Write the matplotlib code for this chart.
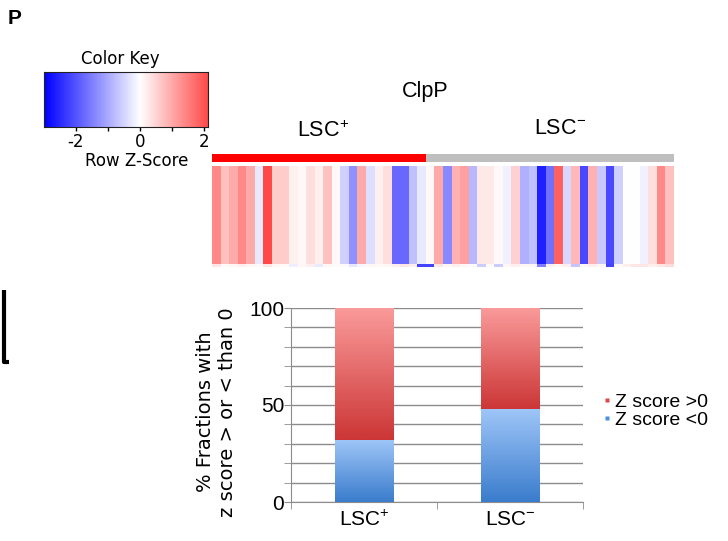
import numpy as np
import matplotlib
matplotlib.use("Agg")
import matplotlib.pyplot as plt
from matplotlib.colors import LinearSegmentedColormap, ListedColormap
from matplotlib.lines import Line2D

plt.rcParams['font.family'] = ['Liberation Sans', 'DejaVu Sans']
plt.rcParams['mathtext.default'] = 'regular'

# ---------------- data ----------------
lsc_pos_z = [1.40, 0.74, 1.00, 1.40, 1.00, -0.27, 2.15, 0.60, 0.60, 0.18,
             0.09, 0.38, 0.18, 0.74, 0.09, -0.56, -1.31, 1.00, -0.38, 0.18,
             0.38, -1.78, -1.78, -0.74, -0.27]
lsc_neg_z = [0.09, 1.02, -1.40, 0.93, 1.12, -0.84, 0.27, 0.27, 0.09, -0.18,
             0.55, -0.93, -0.74, -2.62, -1.68, 1.87, -0.47, 0.84, -2.15, 0.93,
             -0.65, -2.15, -0.56, 0.02, -0.02, -0.18, 0.38, 1.40, 0.74]
# thin second row (partially visible below main row)
row2_z = [0.30, 0.05, 0.10, 0.20, 0.10, 0.05, 0.30, 0.10, 0.05, -0.20,
          0.10, 0.20, -0.25, 0.10, 0.05, 0.05, -0.30, -0.10, 0.10, 0.05,
          0.10, 0.20, 0.30, 0.20, -2.20, -2.20, 0.30, 0.10, 0.20, 0.10,
          0.05, -0.60, 0.05, -0.60, 0.10, 0.20, 0.10, 0.10, -1.50, 0.20,
          0.10, 0.20, -0.70, 0.10, 0.20, 0.10, -2.20, 0.05, 0.20, 0.30,
          0.30, 0.20, 0.30, 0.40]
groups = ["LSC$^{+}$", "LSC$^{-}$"]
frac_neg = [32, 48]
frac_pos = [68, 52]
legend_labels = ["Z score >0", "Z score <0"]
key_ticks = [-2, -1, 0, 1, 2]
key_ticklabels = ["-2", "", "0", "", "2"]
bar_yticks = [0, 50, 100]

W, H = 728, 541
fig = plt.figure(figsize=(W / 100, H / 100), dpi=100)


def px_axes(x0, y0, x1, y1):
    return fig.add_axes([x0 / W, 1 - y1 / H, (x1 - x0) / W, (y1 - y0) / H])


cmap = LinearSegmentedColormap.from_list("bwr_key", [(0, 0, 1), (1, 1, 1), (1, 0, 0)])
vmin, vmax = -3, 3
KEYFONT = ['DejaVu Sans']

# ---------------- panel letter ----------------
fig.text(8 / W, 1 - 18 / H, "P", fontsize=15, fontweight='bold', va='center', ha='left')

# ---------------- colour key ----------------
axk = px_axes(44, 72, 208, 127)
grad = np.linspace(-3, 2.125, 256)[None, :]
axk.imshow(grad, aspect='auto', cmap=cmap, vmin=vmin, vmax=vmax,
           extent=[-3, 2.125, 0, 1], interpolation='bilinear')
axk.set_xlim(-3, 2.125)
axk.set_ylim(0, 1)
axk.set_yticks([])
axk.set_xticks(key_ticks)
axk.set_xticklabels(key_ticklabels, fontsize=12, family=KEYFONT)
axk.tick_params(axis='x', length=3, width=1, pad=1, direction='out')
for s in axk.spines.values():
    s.set_color('#222222')
    s.set_linewidth(0.8)
fig.text(120 / W, 1 - 59 / H, "Color Key", fontsize=12, family=KEYFONT,
         ha='center', va='center')
fig.text(137 / W, 1 - 161 / H, "Row Z-Score", fontsize=12, family=KEYFONT,
         ha='center', va='center')

# ---------------- heatmap ----------------
all_z = np.array(lsc_pos_z + lsc_neg_z)
n = len(all_z)
axh = px_axes(212, 166, 674, 267)
Z = np.vstack([np.array(row2_z), all_z])
axh.pcolormesh(np.arange(n + 1), [0, 0.03, 1.0], Z, cmap=cmap, vmin=vmin, vmax=vmax,
               shading='flat', antialiased=False)
axh.set_xlim(0, n)
axh.set_ylim(0, 1)
axh.axis('off')

# side colour bar
axs = px_axes(212, 154, 674, 162)
grp = np.array([0] * len(lsc_pos_z) + [1] * len(lsc_neg_z))[None, :]
axs.pcolormesh(np.arange(n + 1), [0, 1], grp, cmap=ListedColormap(['#ff0000', '#bfbfbf']),
               vmin=0, vmax=1, shading='flat')
axs.set_xlim(0, n)
axs.axis('off')

fig.text(425 / W, 1 - 91 / H, "ClpP", fontsize=15.5, ha='center', va='center')
fig.text(323 / W, 1 - 131 / H, "LSC$^{+}$", fontsize=15.5, ha='center', va='center')
fig.text(560 / W, 1 - 129 / H, "LSC$^{-}$", fontsize=15.5, ha='center', va='center')

# ---------------- stacked bar chart ----------------
axb = px_axes(291, 308, 583, 502)
x = np.arange(len(groups))
bw = 0.4
b_neg = axb.bar(x, frac_neg, width=bw, color='#6fa3e6', zorder=3, linewidth=0)
b_pos = axb.bar(x, frac_pos, width=bw, bottom=frac_neg, color='#e06464', zorder=3, linewidth=0)

red_grad = LinearSegmentedColormap.from_list("rg", ['#cc3636', '#fa9a9a'])
blue_grad = LinearSegmentedColormap.from_list("bg", ['#3a7ccc', '#9fc6f8'])
for bars, gc in ((b_neg, blue_grad), (b_pos, red_grad)):
    for p in bars:
        x0, y0 = p.get_x(), p.get_y()
        w, h = p.get_width(), p.get_height()
        im = axb.imshow(np.linspace(0, 1, 128)[:, None], cmap=gc, aspect='auto',
                        origin='lower', extent=[x0, x0 + w, y0, y0 + h], zorder=4,
                        interpolation='bilinear')
        im.set_clip_path(p)

axb.set_xlim(-0.5, 1.5)
axb.set_ylim(0, 100)
axb.set_yticks(bar_yticks)
axb.set_yticks(np.arange(0, 101, 10), minor=True)
axb.yaxis.grid(True, which='both', color='#8c8c8c', linewidth=1.0, zorder=0)
axb.set_axisbelow(True)
axb.tick_params(axis='y', which='both', length=5, color='#8c8c8c', labelsize=15, pad=0)
axb.set_xticks([-0.5, 0.5, 1.5], minor=True)
axb.set_xticks(x)
axb.set_xticklabels(groups, fontsize=15)
axb.tick_params(axis='x', which='major', length=0, pad=6)
axb.tick_params(axis='x', which='minor', length=5, color='#8c8c8c')
for side in ('top', 'right'):
    axb.spines[side].set_visible(False)
for side in ('left', 'bottom'):
    axb.spines[side].set_color('#8c8c8c')
axb.set_ylabel("% Fractions with\nz score > or < than 0", fontsize=14, family=['DejaVu Sans'],
               linespacing=1.2)
axb.yaxis.set_label_coords(-0.185, 0.465)

handles = [Line2D([], [], marker='s', linestyle='none', markersize=3.5,
                  markerfacecolor='#e04848', markeredgecolor='none'),
           Line2D([], [], marker='s', linestyle='none', markersize=3.5,
                  markerfacecolor='#4a90e2', markeredgecolor='none')]
fig.legend(handles, legend_labels, loc='center left', bbox_to_anchor=(603 / W, 1 - 411 / H),
           frameon=False, fontsize=14, handlelength=0.4, handletextpad=0.2,
           labelspacing=0.0, borderpad=0, borderaxespad=0)

# ---------------- cropped bracket at left edge ----------------
fig.add_artist(Line2D([4 / W, 4 / W, 9 / W], [1 - 290 / H, 1 - 362 / H, 1 - 362 / H],
                      color='black', linewidth=3, solid_capstyle='butt'))

fig.savefig("out.png", dpi=100)
